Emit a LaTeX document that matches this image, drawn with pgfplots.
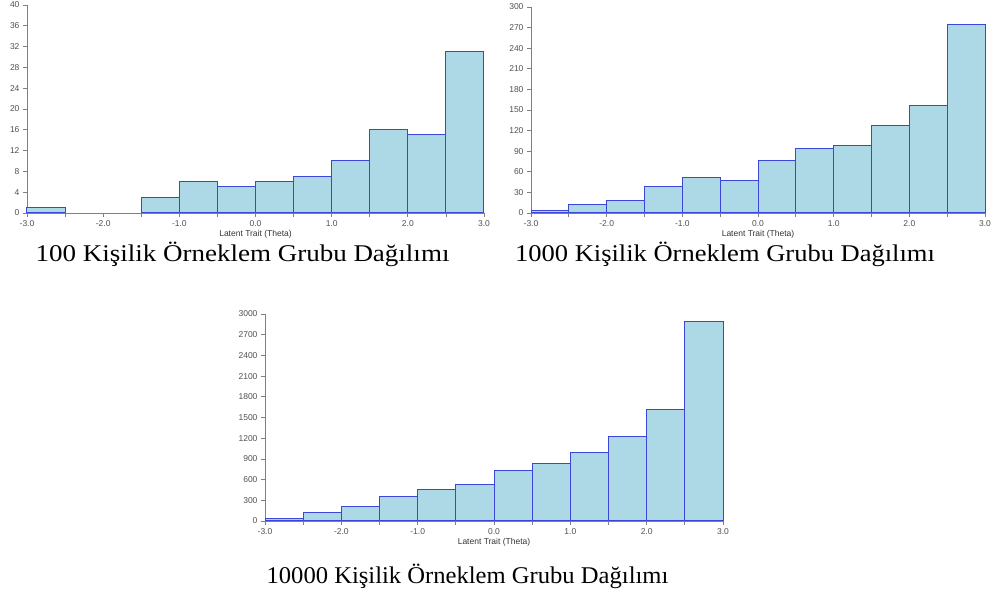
\documentclass[border=0pt]{standalone}
\usepackage{pgfplots}
\pgfplotsset{compat=1.18}
\usepackage{fontspec}
\setmainfont{Liberation Serif}
\newfontfamily\arialf{Liberation Sans}
\definecolor{barfill}{RGB}{173,216,230}
\definecolor{baredge}{RGB}{60,70,215}
\definecolor{axgray}{RGB}{128,128,128}
\definecolor{txgray}{RGB}{80,80,80}
\pgfplotsset{
  histo/.style={
    scale only axis,
    anchor=south west,
    axis x line*=bottom,
    axis y line*=left,
    axis line style={-,draw=axgray,line width=0.9pt},
    tick style={draw=axgray,line width=0.7pt},
    tick align=outside,
    major tick length=4pt,
    xmin=-3,xmax=3,ymin=0,
    xtick={-3,-2.5,...,3},
    xticklabels={{-3.0},,{-2.0},,{-1.0},,{0.0},,{1.0},,{2.0},,{3.0}},
    ticklabel style={font=\arialf\fontsize{8.5}{9}\selectfont,text=txgray},
    /pgf/number format/assume math mode=true,
    /pgf/number format/1000 sep={},
    scaled y ticks=false,
    xlabel={Latent Trait (Theta)},
    xlabel style={font=\arialf\fontsize{8.5}{9}\selectfont,text=black!80,yshift=3pt},
    xticklabel style={yshift=0pt},
    clip=false,
  },
  hbar/.style={ybar interval,fill=barfill,draw=baredge,line width=1pt},
}
\begin{document}
\begin{tikzpicture}
\path[use as bounding box] (0,0) rectangle (996pt,601pt);
% 100
\begin{axis}[histo,at={(27pt,388pt)},width=457pt,height=208pt,ymax=40,ytick={0,4,...,40}]
\addplot[hbar] coordinates {(-3,1) (-2.5,1)};
\addplot[hbar] coordinates {(-1.5,3) (-1,6) (-0.5,5) (0,6) (0.5,7) (1,10) (1.5,16) (2,15) (2.5,31) (3,31)};
\end{axis}
% 1000
\begin{axis}[histo,at={(531pt,388pt)},width=454pt,height=206pt,ymax=300,ytick={0,30,...,300}]
\addplot[hbar] coordinates {(-3,3) (-2.5,12) (-2,18) (-1.5,38) (-1,52) (-0.5,48) (0,77) (0.5,94) (1,99) (1.5,127) (2,157) (2.5,275) (3,275)};
\end{axis}
% 10000
\begin{axis}[histo,at={(265pt,80pt)},width=458pt,height=207pt,ymax=3000,ytick={0,300,...,3000}]
\addplot[hbar] coordinates {(-3,40) (-2.5,120) (-2,215) (-1.5,350) (-1,460) (-0.5,530) (0,725) (0.5,830) (1,995) (1.5,1220) (2,1620) (2.5,2895) (3,2895)};
\end{axis}
\node[anchor=base,inner sep=0pt,xscale=1.125,font=\fontsize{24}{28}\selectfont] at (242.5pt,339pt) {100 Kişilik Örneklem Grubu Dağılımı};
\node[anchor=base,inner sep=0pt,xscale=1.105,font=\fontsize{24}{28}\selectfont] at (725pt,339pt) {1000 Kişilik Örneklem Grubu Dağılımı};
\node[anchor=base,inner sep=0pt,xscale=1.025,font=\fontsize{24}{28}\selectfont] at (467.5pt,17pt) {10000 Kişilik Örneklem Grubu Dağılımı};
\end{tikzpicture}
\end{document}
